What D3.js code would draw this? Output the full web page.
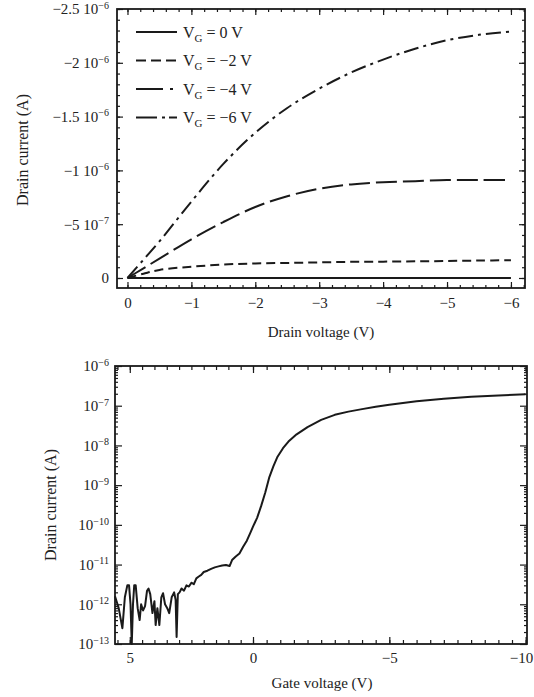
<!DOCTYPE html>
<html>
<head>
<meta charset="utf-8">
<script src="https://cdn.jsdelivr.net/npm/d3@7"></script>
<style>
  body { margin: 0; background: #fff; }
  svg text { font-family: "Liberation Serif", "DejaVu Serif", serif; fill: #222; }
</style>
</head>
<body>
<div id="chart"></div>
<script>
// ---- output characteristics (top panel) ----
const drainV = [0, -0.25, -0.5, -1, -1.5, -2, -2.5, -3, -3.5, -4, -4.5, -5, -5.5, -6];
const idVg0 = [0, 0, 0, 0, 0, 0, 0, 0, 0, 0, 0, 0, 0, 0];
const idVg2 = [0, -4.0e-8, -7.5e-8, -1.05e-7, -1.25e-7, -1.35e-7, -1.4e-7, -1.45e-7, -1.5e-7, -1.52e-7, -1.55e-7, -1.58e-7, -1.62e-7, -1.65e-7];
const idVg4 = [0, -9.0e-8, -1.8e-7, -3.6e-7, -5.2e-7, -6.6e-7, -7.6e-7, -8.3e-7, -8.7e-7, -8.9e-7, -9.0e-7, -9.1e-7, -9.1e-7, -9.1e-7];
const idVg6 = [0, -1.7e-7, -3.4e-7, -7.1e-7, -1.06e-6, -1.35e-6, -1.58e-6, -1.76e-6, -1.91e-6, -2.03e-6, -2.13e-6, -2.21e-6, -2.26e-6, -2.29e-6];
const gateLabels = ["0 V", "\u22122 V", "\u22124 V", "\u22126 V"];
const outXTicks = [0, -1, -2, -3, -4, -5, -6];
const outYTicks = [0, -5e-7, -1e-6, -1.5e-6, -2e-6, -2.5e-6];
const outYLabels = [["0", ""], ["\u22125 10", "\u22127"], ["\u22121 10", "\u22126"], ["\u22121.5 10", "\u22126"], ["\u22122 10", "\u22126"], ["\u22122.5 10", "\u22126"]];

// ---- transfer characteristic (bottom panel) ----
const gateV = [5.6, 5.45, 5.3, 5.2, 5.1, 5.03, 4.97, 4.92, 4.87, 4.82, 4.76, 4.68, 4.6, 4.54, 4.46, 4.38, 4.3, 4.24, 4.17, 4.08,
  4.0, 3.95, 3.88, 3.8, 3.72, 3.65, 3.57, 3.48, 3.4, 3.3, 3.2, 3.14, 3.1, 3.05, 2.98, 2.9, 2.8, 2.7, 2.6, 2.5,
  2.4, 2.3, 2.2, 2.1, 2.0, 1.85, 1.7, 1.55, 1.4, 1.25, 1.1, 0.95, 0.85, 0.7, 0.55, 0.4, 0.25, 0.1, 0,
  -0.15, -0.3, -0.45, -0.6, -0.75, -0.9, -1.1, -1.3, -1.6, -2, -2.5, -3, -3.5, -4, -4.5, -5, -6, -7, -8, -9, -10];
const drainI = [1.6e-12, 8e-13, 2.5e-13, 1.5e-12, 3e-12, 3e-12, 1e-12, 1e-13, 1e-12, 3e-12, 3e-12, 8e-13, 4e-13, 1e-12, 7e-13, 9e-13, 2.2e-12, 2.5e-12, 1.8e-12, 6e-13,
  1.2e-12, 3e-13, 8e-13, 3e-13, 1.5e-12, 1.9e-12, 1e-12, 8e-13, 6e-13, 1.5e-12, 2e-12, 1.3e-12, 1.5e-13, 1.8e-12, 2e-12, 2.5e-12, 2.2e-12, 3e-12, 2.8e-12, 3.5e-12,
  3.2e-12, 4.5e-12, 5e-12, 5.5e-12, 6.5e-12, 7e-12, 7.8e-12, 8.5e-12, 9e-12, 9.5e-12, 9.8e-12, 9.2e-12, 1.3e-11, 1.6e-11, 1.9e-11, 2.8e-11, 4e-11, 6.5e-11, 9e-11,
  1.5e-10, 3.0e-10, 6.5e-10, 1.6e-9, 3.0e-9, 5.2e-9, 8.5e-9, 1.25e-8, 1.9e-8, 2.9e-8, 4.4e-8, 5.9e-8, 7.1e-8, 8.2e-8, 9.4e-8, 1.06e-7, 1.3e-7, 1.5e-7, 1.68e-7, 1.82e-7, 1.93e-7];
const trXTicks = [5, 0, -5, -10];
const trYTicks = [1e-13, 1e-12, 1e-11, 1e-10, 1e-9, 1e-8, 1e-7, 1e-6];

const width = 534, height = 697;
const ink = "#1a1a1a";

const svg = d3.select("#chart").append("svg")
  .attr("width", width)
  .attr("height", height);

function supText(sel, base, sup) {
  sel.text(null);
  sel.append("tspan").text(base);
  if (sup) sel.append("tspan").attr("dy", "-0.55em").style("font-size", "10px").text(sup);
}

function styleAxis(g) {
  g.select(".domain").remove();
  g.selectAll(".tick line").attr("stroke", ink).attr("stroke-width", 1.2);
  g.selectAll(".tick text").style("font-size", "15px").attr("fill", ink);
}

// =================== top panel ===================
const x1 = d3.scaleLinear().domain([0.164, -6.22]).range([117, 525]);
const y1 = d3.scaleLinear().domain([0.093e-6, -2.5e-6]).range([288, 9]);
const outPanel = svg.append("g");

const xMinor1 = d3.range(0, -6.21, -0.2);
const yMinor1 = d3.range(0, -2.51e-6, -1e-7);

outPanel.append("g").attr("transform", `translate(0,${y1.range()[0]})`)
  .call(d3.axisBottom(x1).tickValues(xMinor1).tickSize(-3).tickFormat("")).call(styleAxis);
outPanel.append("g").attr("transform", `translate(0,${y1.range()[1]})`)
  .call(d3.axisTop(x1).tickValues(xMinor1).tickSize(-3).tickFormat("")).call(styleAxis);
outPanel.append("g").attr("transform", `translate(${x1.range()[0]},0)`)
  .call(d3.axisLeft(y1).tickValues(yMinor1).tickSize(-3).tickFormat("")).call(styleAxis);
outPanel.append("g").attr("transform", `translate(${x1.range()[1]},0)`)
  .call(d3.axisRight(y1).tickValues(yMinor1).tickSize(-3).tickFormat("")).call(styleAxis);

outPanel.append("g").attr("transform", `translate(0,${y1.range()[0]})`)
  .call(d3.axisBottom(x1).tickValues(outXTicks).tickSize(-6).tickPadding(9)
    .tickFormat(d => d === 0 ? "0" : "\u2212" + Math.abs(d)))
  .call(styleAxis);
outPanel.append("g").attr("transform", `translate(0,${y1.range()[1]})`)
  .call(d3.axisTop(x1).tickValues(outXTicks).tickSize(-6).tickFormat("")).call(styleAxis);
const yAxTop = outPanel.append("g").attr("transform", `translate(${x1.range()[0]},0)`)
  .call(d3.axisLeft(y1).tickValues(outYTicks).tickSize(-6).tickPadding(8)).call(styleAxis);
yAxTop.selectAll(".tick text").each(function (d, i) { supText(d3.select(this), outYLabels[i][0], outYLabels[i][1]); });
outPanel.append("g").attr("transform", `translate(${x1.range()[1]},0)`)
  .call(d3.axisRight(y1).tickValues(outYTicks).tickSize(-6).tickFormat("")).call(styleAxis);

outPanel.append("rect")
  .attr("x", x1.range()[0]).attr("y", y1.range()[1])
  .attr("width", x1.range()[1] - x1.range()[0]).attr("height", y1.range()[0] - y1.range()[1])
  .attr("fill", "none").attr("stroke", ink).attr("stroke-width", 1.8);

const outSeries = [
  { vals: idVg0, dash: null, legendDash: null },
  { vals: idVg2, dash: "9,5", legendDash: "10,5" },
  { vals: idVg4, dash: "21,6", legendDash: "27,7,3,20" },
  { vals: idVg6, dash: "15,5,3,5", legendDash: "21,5,3,4,12" }
];

const line1 = d3.line()
  .x((d, i) => x1(drainV[i]))
  .y(d => y1(d))
  .curve(d3.curveCatmullRom.alpha(0.5));

outPanel.selectAll(".curve")
  .data(outSeries)
  .enter()
  .append("path")
  .attr("class", "curve")
  .attr("fill", "none")
  .attr("stroke", ink)
  .attr("stroke-width", 2)
  .attr("stroke-dasharray", d => d.dash)
  .attr("d", d => line1(d.vals));

const legend = outPanel.selectAll(".leg")
  .data(outSeries)
  .enter()
  .append("g")
  .attr("class", "leg")
  .attr("transform", (d, i) => `translate(136,${32 + i * 28.5})`);

legend.append("line")
  .attr("x1", 0).attr("x2", 41)
  .attr("stroke", ink).attr("stroke-width", 2.2)
  .attr("stroke-dasharray", d => d.legendDash);

legend.append("text")
  .attr("x", 47).attr("dy", "0.35em")
  .style("font-size", "16px")
  .each(function (d, i) {
    const t = d3.select(this);
    t.append("tspan").text("V");
    t.append("tspan").attr("dy", "4").style("font-size", "11px").text("G");
    t.append("tspan").attr("dy", "-4").text(" = " + gateLabels[i]);
  });

outPanel.append("text")
  .attr("x", d3.mean(x1.range())).attr("y", 337)
  .attr("text-anchor", "middle").style("font-size", "15px")
  .text("Drain voltage (V)");
outPanel.append("text")
  .attr("transform", "translate(28,150) rotate(-90)")
  .attr("text-anchor", "middle").style("font-size", "16px")
  .text("Drain current (A)");

// =================== bottom panel ===================
const x2 = d3.scaleLinear().domain([5.6, 0, -10.05]).range([115, 253, 527]);
const y2 = d3.scaleLog().domain([1e-13, 1e-6]).range([644, 366]);
const trPanel = svg.append("g");

const xMinor2 = d3.range(5.5, -10.01, -0.5);
const yMinor2 = [];
trYTicks.slice(0, -1).forEach(p => { for (let k = 2; k <= 9; k++) yMinor2.push(p * k); });

trPanel.append("g").attr("transform", `translate(0,${y2.range()[0]})`)
  .call(d3.axisBottom(x2).tickValues(xMinor2).tickSize(-4).tickFormat("")).call(styleAxis);
trPanel.append("g").attr("transform", `translate(0,${y2.range()[1]})`)
  .call(d3.axisTop(x2).tickValues(xMinor2).tickSize(-4).tickFormat("")).call(styleAxis);
trPanel.append("g").attr("transform", `translate(${x2.range()[0]},0)`)
  .call(d3.axisLeft(y2).tickValues(yMinor2).tickSize(-3).tickFormat("")).call(styleAxis);
trPanel.append("g").attr("transform", `translate(${x2.range()[2]},0)`)
  .call(d3.axisRight(y2).tickValues(yMinor2).tickSize(-3).tickFormat("")).call(styleAxis);

const xAxBot = trPanel.append("g").attr("transform", `translate(0,${y2.range()[0]})`)
  .call(d3.axisBottom(x2).tickValues(trXTicks).tickSize(-7).tickPadding(8)
    .tickFormat(d => d <= 0 ? (d === 0 ? "0" : "\u2212" + Math.abs(d)) : String(d)))
  .call(styleAxis);
// keep the last label inside the picture
xAxBot.selectAll(".tick text").filter(d => d === -10)
  .attr("text-anchor", "end").attr("x", 7);
trPanel.append("g").attr("transform", `translate(0,${y2.range()[1]})`)
  .call(d3.axisTop(x2).tickValues(trXTicks).tickSize(-7).tickFormat("")).call(styleAxis);
const yAxBot = trPanel.append("g").attr("transform", `translate(${x2.range()[0]},0)`)
  .call(d3.axisLeft(y2).tickValues(trYTicks).tickSize(-7).tickPadding(6)).call(styleAxis);
yAxBot.selectAll(".tick text").each(function (d) {
  supText(d3.select(this), "10", "\u2212" + Math.round(-Math.log10(d)));
});
trPanel.append("g").attr("transform", `translate(${x2.range()[2]},0)`)
  .call(d3.axisRight(y2).tickValues(trYTicks).tickSize(-7).tickFormat("")).call(styleAxis);

trPanel.append("rect")
  .attr("x", x2.range()[0]).attr("y", y2.range()[1])
  .attr("width", x2.range()[2] - x2.range()[0]).attr("height", y2.range()[0] - y2.range()[1])
  .attr("fill", "none").attr("stroke", ink).attr("stroke-width", 1.8);

const line2 = d3.line()
  .x((d, i) => x2(gateV[i]))
  .y(d => y2(d));

trPanel.append("path")
  .datum(drainI)
  .attr("fill", "none")
  .attr("stroke", ink)
  .attr("stroke-width", 2)
  .attr("stroke-linejoin", "round")
  .attr("d", line2);

trPanel.append("text")
  .attr("x", 322).attr("y", 688)
  .attr("text-anchor", "middle").style("font-size", "15px")
  .text("Gate voltage (V)");
trPanel.append("text")
  .attr("transform", "translate(56,505) rotate(-90)")
  .attr("text-anchor", "middle").style("font-size", "16px")
  .text("Drain current (A)");
</script>
</body>
</html>
